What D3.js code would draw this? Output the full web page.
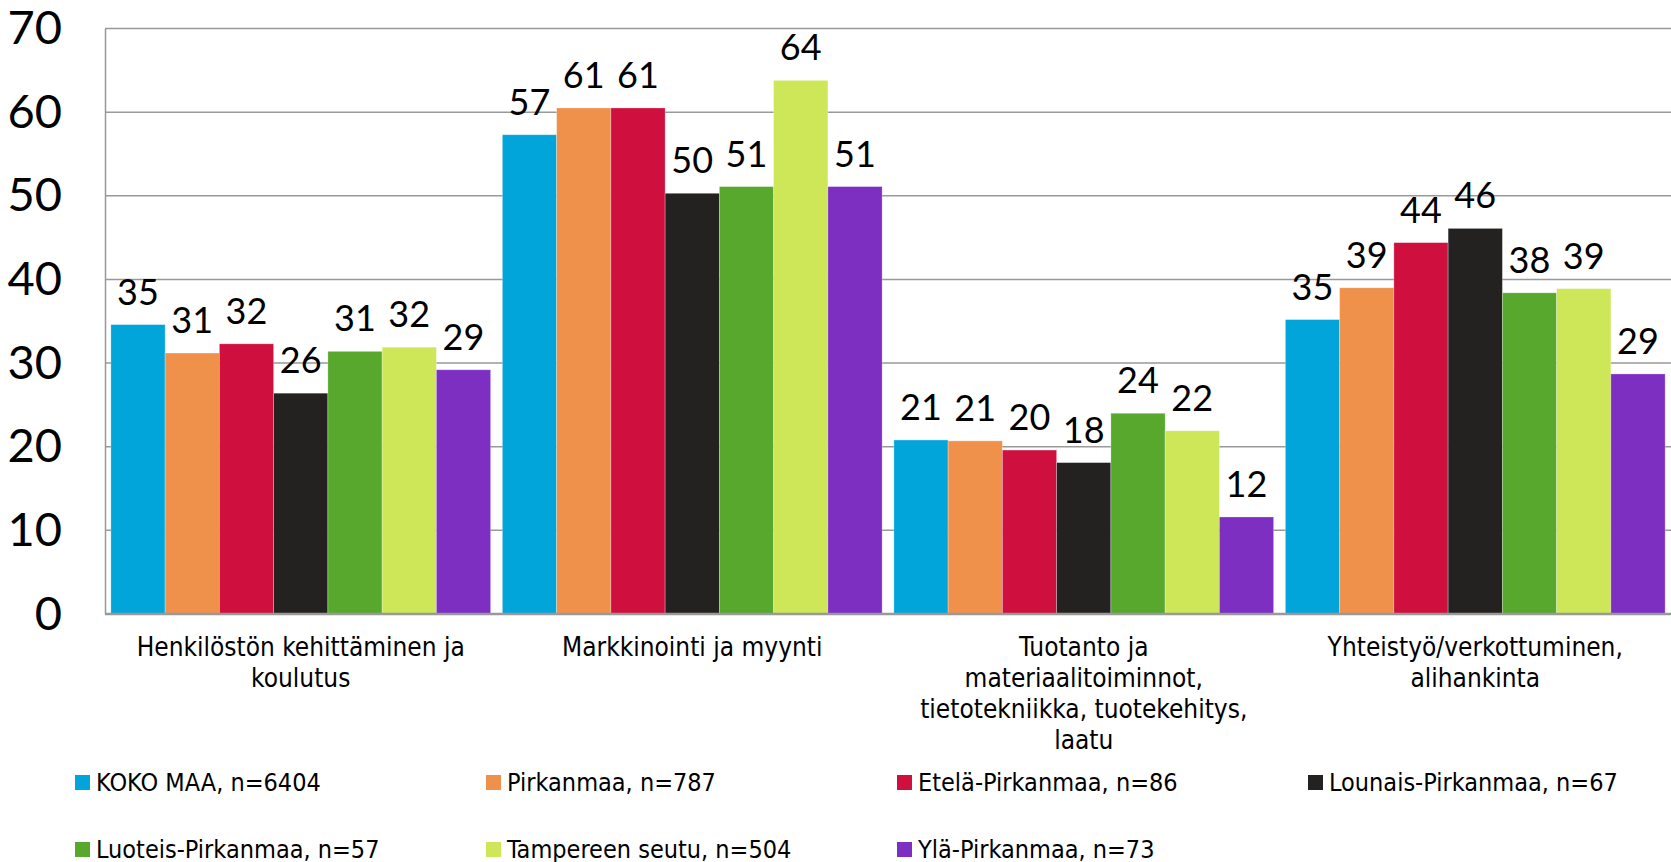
<!DOCTYPE html>
<html>
<head>
<meta charset="utf-8">
<script src="https://cdn.jsdelivr.net/npm/d3@7"></script>
<style>
  body { margin: 0; background: #fff; }
  svg { display: block; }
</style>
</head>
<body>
<script>
const width = 1671,
      height = 862;

// categories (tick labels, already broken into lines)
const categories = ["henkilosto", "markkinointi", "tuotanto", "yhteistyo"];
const categoryLines = [
	["Henkilöstön kehittäminen ja", "koulutus"],
	["Markkinointi ja myynti"],
	["Tuotanto ja", "materiaalitoiminnot,", "tietotekniikka, tuotekehitys,", "laatu"],
	["Yhteistyö/verkottuminen,", "alihankinta"]
];

// series
const seriesNames = [
	"KOKO MAA, n=6404",
	"Pirkanmaa, n=787",
	"Etelä-Pirkanmaa, n=86",
	"Lounais-Pirkanmaa, n=67",
	"Luoteis-Pirkanmaa, n=57",
	"Tampereen seutu, n=504",
	"Ylä-Pirkanmaa, n=73"
];
const seriesColors = ["#02a5da", "#f0914b", "#cf0f3d", "#232221", "#57a82c", "#cde759", "#7c2fc1"];

// values per series, in category order
const kokoMaa   = [34.6, 57.3, 20.8, 35.2];
const pirkanmaa = [31.2, 60.5, 20.7, 39.0];
const etela     = [32.3, 60.5, 19.6, 44.4];
const lounais   = [26.4, 50.3, 18.1, 46.1];
const luoteis   = [31.4, 51.1, 24.0, 38.4];
const tampere   = [31.9, 63.8, 21.9, 38.9];
const yla       = [29.2, 51.1, 11.6, 28.7];
const seriesValues = [kokoMaa, pirkanmaa, etela, lounais, luoteis, tampere, yla];

const yTicks = [0, 10, 20, 30, 40, 50, 60, 70];

var svg = d3.select("body").append("svg")
	.attr("width", width)
	.attr("height", height);

var x0 = d3.scaleBand()
	.domain(categories)
	.range([105, 1671])
	.paddingInner(0.03)
	.paddingOuter(0.015);

var x1 = d3.scaleBand()
	.domain(seriesNames)
	.range([0, x0.bandwidth()]);

var y = d3.scaleLinear()
	.domain([0, 70])
	.range([614, 28.5]);

// gridlines
svg.append("g")
	.selectAll("line")
	.data(yTicks.filter(d => d > 0))
	.enter().append("line")
	.attr("x1", 105)
	.attr("x2", width)
	.attr("y1", d => y(d))
	.attr("y2", d => y(d))
	.attr("stroke", "#999")
	.attr("stroke-width", 1.5);

// y axis
var yAxis = svg.append("g")
	.attr("transform", "translate(105,0)")
	.call(d3.axisLeft(y).tickValues(yTicks).tickSize(0).tickPadding(43));
yAxis.select(".domain").attr("stroke", "#999").attr("stroke-width", 1.5);
yAxis.selectAll("text")
	.style("font-family", "Lato, 'Open Sans', sans-serif")
	.style("font-size", "47px")
	.attr("fill", "#000");

// bars
var rows = [];
categories.forEach(function (c, ci) {
	seriesNames.forEach(function (s, si) {
		rows.push({cat: c, series: s, si: si, value: seriesValues[si][ci]});
	});
});

var bar = svg.append("g")
	.selectAll("g")
	.data(rows)
	.enter().append("g");

bar.append("rect")
	.attr("x", d => x0(d.cat) + x1(d.series))
	.attr("y", d => y(d.value))
	.attr("width", x1.bandwidth())
	.attr("height", d => y(0) - y(d.value))
	.attr("fill", d => seriesColors[d.si])
	.attr("stroke", "#fff")
	.attr("stroke-opacity", 0.35)
	.attr("stroke-width", 0.8);

bar.append("text")
	.attr("x", d => x0(d.cat) + x1(d.series) + x1.bandwidth() / 2)
	.attr("y", d => y(d.value) - 20)
	.attr("text-anchor", "middle")
	.style("font-family", "Lato, 'Open Sans', sans-serif")
	.style("font-size", "36px")
	.attr("fill", "#000")
	.text(d => d3.format(".0f")(d.value));

// x axis line
svg.append("line")
	.attr("x1", 105)
	.attr("x2", width)
	.attr("y1", y(0))
	.attr("y2", y(0))
	.attr("stroke", "#999")
	.attr("stroke-width", 2.5);

// category labels
var catLabel = svg.append("g")
	.selectAll("text")
	.data(categories)
	.enter().append("text")
	.attr("text-anchor", "middle")
	.style("font-family", "'DejaVu Sans Condensed', 'DejaVu Sans', sans-serif")
	.style("font-size", "26px")
	.attr("fill", "#000");

catLabel.selectAll("tspan")
	.data((d, i) => categoryLines[i].map(t => ({t: t, cx: x0(d) + x0.bandwidth() / 2})))
	.enter().append("tspan")
	.attr("x", d => d.cx)
	.attr("y", (d, i) => 656 + i * 31)
	.text(d => d.t);

// legend
var legend = svg.append("g")
	.selectAll("g")
	.data(seriesNames)
	.enter().append("g")
	.attr("transform", (d, i) => "translate(" + (75 + (i % 4) * 411) + "," + (775 + Math.floor(i / 4) * 67) + ")");

legend.append("rect")
	.attr("width", 15)
	.attr("height", 15)
	.attr("fill", (d, i) => seriesColors[i]);

legend.append("text")
	.attr("x", 21)
	.attr("y", 16)
	.style("font-family", "'DejaVu Sans Condensed', 'DejaVu Sans', sans-serif")
	.style("font-size", "25px")
	.attr("fill", "#000")
	.text(d => d);
</script>
</body>
</html>
